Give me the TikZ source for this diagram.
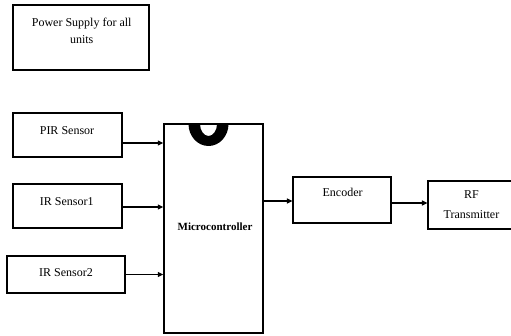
\documentclass[tikz,border=0pt]{standalone}
\usepackage{fontspec}
\setmainfont{Liberation Serif}
\usetikzlibrary{arrows.meta}
\begin{document}
\begin{tikzpicture}[x=1pt,y=1pt,
  blk/.style={draw=black,line width=1.1pt,rectangle,inner sep=0pt},
  lbl/.style={anchor=base,inner sep=0pt,font=\fontsize{12}{14}\selectfont},
  arr/.style={line width=1.1pt,-{Triangle[length=5.5pt,width=5pt]}}]
\useasboundingbox (0,0) rectangle (511,335);

% blocks
\node[blk,minimum width=136pt,minimum height=65pt] (pwr) at (81,297.5) {};
\node[blk,minimum width=109pt,minimum height=44pt] (pir) at (67.5,200) {};
\node[blk,minimum width=109pt,minimum height=44pt] (ir1) at (67.5,129) {};
\node[blk,minimum width=118pt,minimum height=37pt] (ir2) at (66,60.5) {};
\node[blk,line width=1.4pt,minimum width=99pt,minimum height=209pt] (mcu) at (213.5,106.5) {};
\node[blk,minimum width=98pt,minimum height=46pt] (enc) at (342,135) {};
\node[blk,minimum width=88pt,minimum height=48pt] (rf) at (472,130) {};

% chip notch
\fill[black] (188.5,211) arc[start angle=180,end angle=360,x radius=20pt,y radius=22pt]
  -- (217,211) arc[start angle=0,end angle=-180,x radius=8.5pt,y radius=12pt] -- cycle;

% labels
\node[lbl] (pwrA) at (81.7,308) {Power Supply for all};
\node[lbl] (pwrB) at (81.7,291) {units};
\node[lbl] (pirT) at (67,200.7) {PIR Sensor};
\node[lbl] (ir1T) at (66.7,129.5) {IR Sensor1};
\node[lbl] (ir2T) at (66,58.5) {IR Sensor2};
\node[lbl,font=\fontsize{11}{13}\selectfont\bfseries] (mcuT) at (215,104.3) {Microcontroller};
\node[lbl] (encT) at (342.6,138.3) {Encoder};
\node[lbl] (rfA) at (471.5,136) {RF};
\node[lbl] (rfB) at (471.5,117) {Transmitter};

% connections
\draw[arr] ([yshift=-8pt]pir.east) -- ([yshift=-8pt]pir.east -| mcu.west);
\draw[arr] ([yshift=-1pt]ir1.east) -- ([yshift=-1pt]ir1.east -| mcu.west);
\draw[arr] (ir2.east) -- (ir2.east -| mcu.west);
\draw[arr] ([yshift=-1pt]enc.west -| mcu.east) -- ([yshift=-1pt]enc.west);
\draw[arr] ([yshift=-3pt]enc.east) -- ([yshift=-3pt]enc.east -| rf.west);
\end{tikzpicture}
\end{document}
